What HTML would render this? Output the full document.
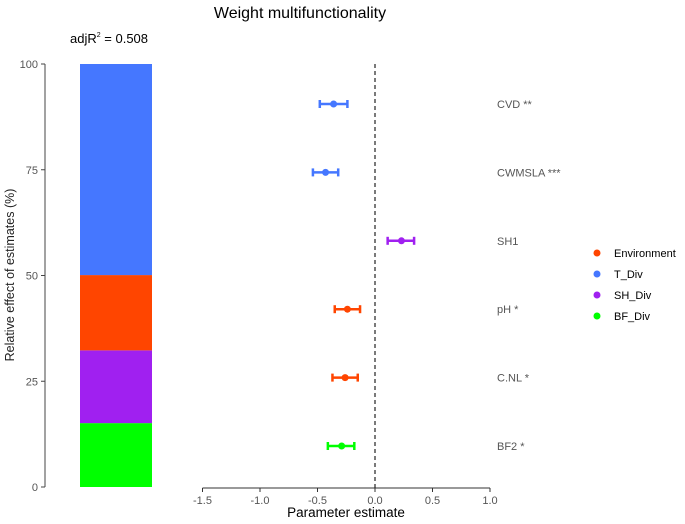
<!DOCTYPE html>
<html><head><meta charset="utf-8"><style>
body{margin:0;background:#fff;font-family:"Liberation Sans",Arial,sans-serif}
svg{display:block}
</style></head><body>
<svg id="c" width="685" height="524" viewBox="0 0 685 524" xmlns="http://www.w3.org/2000/svg">
<text x="300" y="18" font-size="16" text-anchor="middle" fill="#000">Weight multifunctionality</text>
<text x="70" y="43" font-size="13" fill="#000">adjR<tspan font-size="7" dy="-6">2</tspan><tspan dy="6"> = 0.508</tspan></text>
<text transform="translate(14,275) rotate(-90)" font-size="12.5" text-anchor="middle" fill="#222">Relative  effect of estimates (%)</text>
<text x="346" y="517" font-size="13.5" text-anchor="middle" fill="#000">Parameter estimate</text>
<g id="bars"></g><g id="yaxis"></g><g id="xaxis"></g><g id="pts"></g><g id="legend"></g>
</svg>
<script>
const segCats=["BF_Div","SH_Div","Environment","T_Div"];
const segVals=[15.1,17.2,17.8,49.9];
const yTicks=[0,25,50,75,100];
const terms=["CVD **","CWMSLA ***","SH1","pH *","C.NL *","BF2 *"];
const termGroup=["T_Div","T_Div","SH_Div","Environment","Environment","BF_Div"];
const est=[-0.36,-0.43,0.23,-0.24,-0.26,-0.29];
const lo=[-0.48,-0.54,0.11,-0.35,-0.37,-0.41];
const hi=[-0.24,-0.32,0.34,-0.13,-0.15,-0.18];
const xTicks=[-1.5,-1.0,-0.5,0.0,0.5,1.0];
const xTickLabels=["-1.5","-1.0","-0.5","0.0","0.5","1.0"];
const legendCats=["Environment","T_Div","SH_Div","BF_Div"];
const colors={"Environment":"#ff4500","T_Div":"#4577ff","SH_Div":"#a020f0","BF_Div":"#00ff00"};
const NS="http://www.w3.org/2000/svg";
function mk(t,a,p){const e=document.createElementNS(NS,t);for(const k in a)e.setAttribute(k,a[k]);p.appendChild(e);return e;}
const yS=v=>487-v*4.23;
const xS=v=>375+v*115;
const rowY=i=>104+i*68.4;
const bars=document.getElementById('bars');
let cum=0;
segVals.forEach((v,i)=>{const r=mk('rect',{x:80,y:yS(cum+v),width:72,height:yS(cum)-yS(cum+v),fill:colors[segCats[i]]},bars);

cum+=v;});
const ya=document.getElementById('yaxis');
mk('line',{x1:45,x2:45,y1:yS(0),y2:yS(100),stroke:'#444','stroke-width':1},ya);
yTicks.forEach(t=>{mk('line',{x1:41,x2:45,y1:yS(t),y2:yS(t),stroke:'#444'},ya);
const tx=mk('text',{x:38,y:yS(t)+4,'font-size':11,'text-anchor':'end',fill:'#555'},ya);tx.textContent=t;

});
const xa=document.getElementById('xaxis');
mk('line',{x1:xS(-1.5),x2:xS(1.0),y1:488,y2:488,stroke:'#333','stroke-width':1},xa);
xTicks.forEach((t,i)=>{mk('line',{x1:xS(t),x2:xS(t),y1:488,y2:492,stroke:'#333'},xa);
const tx=mk('text',{x:xS(t),y:504,'font-size':11,'text-anchor':'middle',fill:'#555'},xa);tx.textContent=xTickLabels[i];

});
const zl=mk('line',{x1:xS(0),x2:xS(0),y1:64,y2:488,stroke:'#222','stroke-dasharray':'4,3','stroke-width':1.2},xa);


const pts=document.getElementById('pts');
terms.forEach((t,i)=>{const y=rowY(i),c=colors[termGroup[i]];
const g=mk('g',{},pts);


mk('line',{x1:xS(lo[i]),x2:xS(hi[i]),y1:y,y2:y,stroke:c,'stroke-width':2.5},g);
mk('line',{x1:xS(lo[i]),x2:xS(lo[i]),y1:y-4,y2:y+4,stroke:c,'stroke-width':2.5},g);
mk('line',{x1:xS(hi[i]),x2:xS(hi[i]),y1:y-4,y2:y+4,stroke:c,'stroke-width':2.5},g);
mk('circle',{cx:xS(est[i]),cy:y,r:3.5,fill:c},g);
const tx=mk('text',{x:497,y:y+4,'font-size':11,fill:'#555'},pts);tx.textContent=t;

});
const lg=document.getElementById('legend');
legendCats.forEach((c,i)=>{const y=253+i*21;
const g=mk('g',{},lg);


mk('circle',{cx:597,cy:y,r:3.5,fill:colors[c]},g);
const tx=mk('text',{x:614,y:y+4,'font-size':11,fill:'#000'},g);tx.textContent=c;});
</script>
</body></html>
